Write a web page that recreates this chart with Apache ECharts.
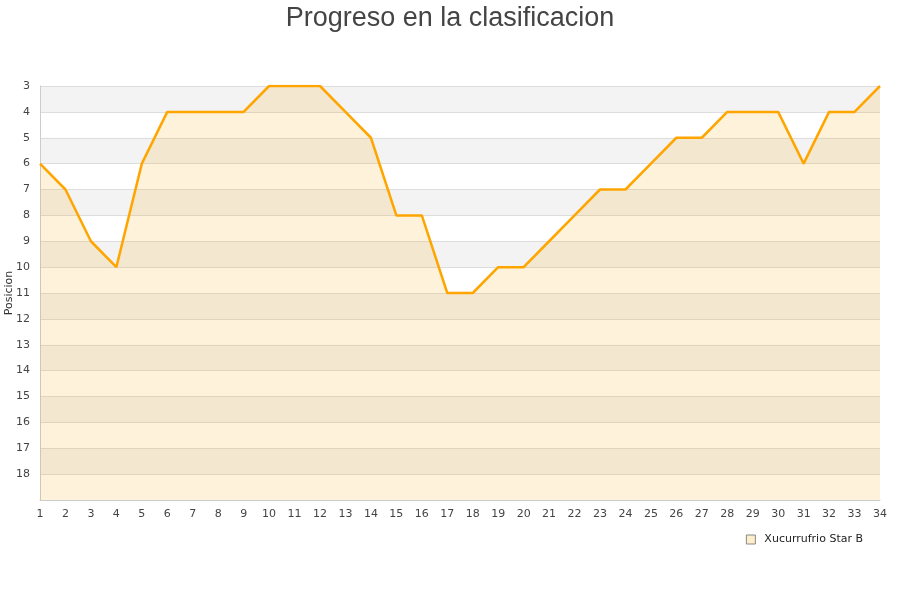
<!DOCTYPE html>
<html><head><meta charset="utf-8">
<script src="https://cdn.jsdelivr.net/npm/echarts@6/dist/echarts.min.js"></script>
<style>html,body{margin:0;padding:0;background:#fff}#c{width:900px;height:600px}</style>
</head><body><div id="c"></div>
<script>
const jornadas = ['1','2','3','4','5','6','7','8','9','10','11','12','13','14','15','16','17','18','19','20','21','22','23','24','25','26','27','28','29','30','31','32','33','34'];
const posiciones = [6,7,9,10,6,4,4,4,4,3,3,3,4,5,8,8,11,11,10,10,9,8,7,7,6,5,5,4,4,4,6,4,4,3];
const equipo = 'Xucurrufrio Star B';

const chart = echarts.init(document.getElementById('c'));
chart.setOption({
  animation: false,
  title: { text: 'Progreso en la clasificacion', left: 'center', top: 0,
    textStyle: { fontFamily: 'Liberation Sans', fontSize: 27, fontWeight: 'normal', color: '#444' } },
  legend: { right: 32, top: 529, itemWidth: 9, itemHeight: 9, itemGap: 10,
    textStyle: { fontFamily: 'DejaVu Sans', fontSize: 11, color: '#222', padding: [0, 0, 0, 4] },
    data: [{ name: equipo, icon: 'rect', itemStyle: { color: '#FFEECC', borderColor: '#888', borderWidth: 1 } }] },
  grid: { left: 40, right: 20, top: 86, bottom: 100, containLabel: false, outerBoundsMode: 'none' },
  xAxis: { type: 'category', data: jornadas, boundaryGap: false,
    axisLine: { lineStyle: { color: '#ccc' } }, axisTick: { show: false },
    axisLabel: { fontFamily: 'DejaVu Sans', fontSize: 11, color: '#444', margin: 9, interval: 0 },
    splitLine: { show: false } },
  yAxis: { type: 'value', inverse: true, min: 3, max: 19, interval: 1,
    name: 'Posicion', nameLocation: 'middle', nameGap: 25, nameMoveOverlap: false,
    nameTextStyle: { fontFamily: 'DejaVu Sans', fontSize: 11, color: '#333' },
    axisLine: { show: true, lineStyle: { color: '#ccc' } }, axisTick: { show: false },
    axisLabel: { fontFamily: 'DejaVu Sans', fontSize: 11, color: '#444', margin: 10,
      formatter: v => (v >= 19 ? '' : v) },
    splitLine: { lineStyle: { color: '#ddd' } },
    splitArea: { show: true, areaStyle: { color: ['#f3f3f3', '#ffffff'] } } },
  series: [{ name: equipo, type: 'line', data: posiciones, showSymbol: false, symbol: 'none',
    lineStyle: { color: '#FFA500', width: 2.5 }, itemStyle: { color: '#FFA500' },
    areaStyle: { color: 'rgba(255,165,0,0.2)', origin: 'end' } }]
});
</script></body></html>
